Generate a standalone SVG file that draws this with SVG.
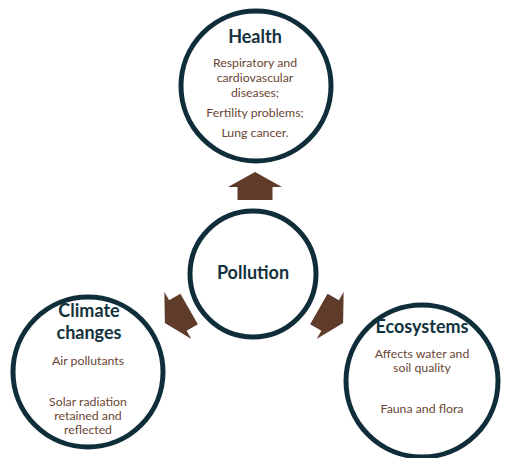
<svg xmlns="http://www.w3.org/2000/svg" width="508" height="458" viewBox="0 0 508 458">
  <style>
    .ring { fill: #ffffff; stroke: #0f2e3a; stroke-width: 5; }
    .title { font-family: Lato, "Liberation Sans", sans-serif; font-weight: bold; font-size: 18px; fill: #13323e; text-anchor: middle; }
    .body { font-family: Lato, "Liberation Sans", sans-serif; font-size: 12.3px; fill: #6a4634; text-anchor: middle; }
    .arrow { fill: #5f3b29; }
  </style>
  <defs>
    <polygon id="arr" points="0,-14 27,1 17.5,1 17.5,14 -17.5,14 -17.5,1 -27,1"/>
  </defs>
  <rect width="508" height="458" fill="#ffffff"/>
  <g id="connectors">
    <use href="#arr" class="arrow" transform="translate(255,186)"/>
    <use href="#arr" class="arrow" transform="translate(177,316) rotate(-120)"/>
    <use href="#arr" class="arrow" transform="translate(331,316) rotate(120)"/>
  </g>
  <g id="health">
    <circle class="ring" cx="256" cy="86" r="75"/>
    <text class="title" x="255" y="43">Health</text>
    <text class="body" x="255" y="67">Respiratory and</text>
    <text class="body" x="255" y="82">cardiovascular</text>
    <text class="body" x="255" y="97">diseases;</text>
    <text class="body" x="255" y="117">Fertility problems;</text>
    <text class="body" x="255" y="137">Lung cancer.</text>
  </g>
  <g id="pollution">
    <circle class="ring" cx="253" cy="274" r="63"/>
    <text class="title" x="253" y="279">Pollution</text>
  </g>
  <g id="climate">
    <circle class="ring" cx="88" cy="372" r="75"/>
    <text class="title" x="89" y="317">Climate</text>
    <text class="title" x="89" y="339">changes</text>
    <text class="body" x="88" y="365">Air pollutants</text>
    <text class="body" x="88" y="406">Solar radiation</text>
    <text class="body" x="88" y="420">retained and</text>
    <text class="body" x="88" y="434">reflected</text>
  </g>
  <g id="ecosystems">
    <circle class="ring" cx="422" cy="381" r="76"/>
    <text class="title" x="422" y="333">Ecosystems</text>
    <text class="body" x="422" y="358">Affects water and</text>
    <text class="body" x="422" y="372">soil quality</text>
    <text class="body" x="422" y="413">Fauna and flora</text>
  </g>
</svg>
